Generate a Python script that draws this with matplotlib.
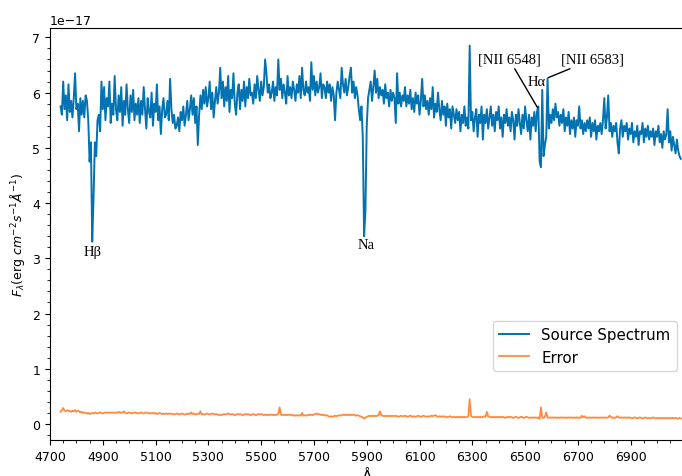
import numpy as np
import matplotlib
matplotlib.use("Agg")
import matplotlib.pyplot as plt
from matplotlib.ticker import MultipleLocator

# wavelength grid of the extracted spectrum (Angstrom)
wl_start, wl_step, wl_end = 4740, 5, 7090

# source flux, units of 1e-17 erg/cm^2/s/A, one row per 100 A
flux = [
    5.75, 5.6, 6.2, 5.7, 5.95, 5.5, 6.15, 5.65, 5.85, 5.55, 5.9, 6.35, 5.7, 5.8, 5.3, 5.9, 5.6, 5.85, 5.55, 5.95,
    5.85, 5.5, 4.75, 5.1, 3.3, 4.1, 5.1, 4.85, 5.5, 5.6, 5.3, 6.2, 5.7, 6.1, 5.5, 5.9, 5.75, 6.2, 5.45, 5.8,
    5.6, 6.3, 5.7, 5.5, 5.95, 5.65, 6.1, 5.4, 5.85, 5.6, 6.15, 5.7, 5.45, 5.95, 5.65, 6.05, 5.5, 5.8, 5.6, 5.9,
    5.45, 5.85, 5.6, 6.1, 5.7, 5.35, 5.9, 5.65, 5.55, 6.0, 5.4, 5.8, 5.65, 6.15, 5.5, 5.75, 5.25, 5.7, 5.9, 5.55,
    5.6, 5.85, 5.5, 6.25, 5.7, 5.45, 5.6, 5.35, 5.4, 5.55, 5.3, 5.65, 5.5, 5.75, 5.4, 5.6, 5.85, 5.5, 5.7, 5.95,
    5.6, 5.9, 5.45, 5.75, 5.05, 5.6, 5.95, 5.7, 6.05, 5.8, 6.1, 5.75, 5.9, 6.2, 5.7, 6.0, 5.55, 5.85, 6.1, 5.8,
    6.0, 6.45, 5.9, 6.2, 5.75, 6.1, 5.85, 6.3, 5.65, 6.05, 5.9, 6.35, 5.8, 5.6, 6.0, 6.15, 5.7, 6.05, 5.85, 6.2,
    5.75, 6.1, 5.9, 6.25, 5.95, 6.0, 5.8, 6.15, 5.9, 6.3, 6.05, 5.85, 6.2, 5.95, 6.1, 6.6, 6.35, 6.0, 6.15, 5.9,
    6.0, 6.2, 5.85, 6.1, 5.95, 6.6, 6.05, 6.25, 5.9, 6.15, 6.0, 5.8, 6.3, 5.95, 6.1, 5.9, 6.2, 6.05, 5.85, 6.15,
    6.0, 6.3, 5.9, 6.45, 6.05, 5.95, 6.2, 6.0, 6.1, 5.85, 6.55, 6.05, 6.3, 5.95, 6.2, 6.0, 6.1, 6.35, 5.9, 6.15,
    6.1, 5.9, 6.2, 6.0, 6.15, 5.85, 6.1, 5.95, 5.5, 6.0, 6.2, 6.05, 5.9, 6.45, 6.15, 6.0, 6.25, 5.95, 6.1, 6.3,
    6.45, 6.0, 6.2, 5.9, 6.1, 5.95, 5.7, 5.5, 5.75, 5.2, 3.4, 3.85, 5.4, 5.9, 6.05, 6.2, 5.85, 6.1, 6.4, 6.0,
    6.25, 5.9, 6.1, 5.95, 6.05, 5.8, 6.15, 5.9, 6.0, 5.75, 6.05, 5.85, 6.0, 5.9, 5.45, 6.35, 5.8, 6.0, 5.75, 5.95,
    5.85, 6.1, 5.75, 5.95, 5.8, 6.05, 5.7, 5.9, 5.65, 6.0, 5.8, 5.95, 5.6, 5.85, 6.25, 5.75, 5.95, 5.7, 5.85, 5.6,
    5.9, 5.7, 6.1, 5.55, 5.8, 5.65, 6.0, 5.7, 5.5, 5.85, 5.6, 5.75, 5.4, 5.8, 5.55, 5.7, 5.35, 5.75, 5.6, 5.45,
    5.7, 5.5, 5.65, 5.3, 5.6, 5.45, 5.75, 5.4, 5.55, 5.35, 6.85, 5.5, 5.65, 5.3, 5.55, 5.7, 5.2, 5.6, 5.45, 5.75,
    5.15, 5.6, 5.45, 5.7, 5.35, 5.55, 5.75, 5.4, 5.6, 5.3, 5.65, 5.5, 5.75, 5.35, 5.55, 5.2, 5.6, 5.45, 5.7, 5.4,
    5.55, 5.3, 5.65, 5.5, 5.15, 5.6, 5.4, 5.7, 5.45, 5.25, 5.6, 5.35, 5.75, 5.5, 5.3, 5.6, 5.15, 5.55, 5.4, 5.65,
    5.3, 5.65, 5.75, 4.75, 4.65, 6.05, 4.85, 5.05, 5.2, 6.25, 5.35, 5.6, 5.45, 5.7, 5.5, 5.8, 5.55, 5.65, 5.4, 5.6,
    5.45, 5.7, 5.3, 5.55, 5.4, 5.65, 5.25, 5.5, 5.35, 5.55, 5.2, 5.5, 5.4, 5.75, 5.35, 5.5, 5.25, 5.45, 5.3, 5.5,
    5.35, 5.55, 5.2, 5.45, 5.3, 5.5, 5.15, 5.4, 5.3, 5.45, 5.25, 5.5, 5.9, 5.35, 5.55, 5.95, 5.3, 5.45, 5.2, 5.4,
    5.3, 5.45, 5.1, 4.9, 5.35, 5.5, 5.2, 5.4, 5.3, 5.45, 5.15, 5.35, 5.25, 5.45, 5.1, 5.3, 5.2, 5.4, 5.05, 5.3,
    5.25, 5.45, 5.1, 5.35, 5.2, 5.4, 5.15, 5.3, 5.2, 5.35, 5.05, 5.3, 5.2, 5.4, 5.1, 5.25, 5.0, 5.3, 5.15, 5.25,
    5.7, 5.1, 5.3, 4.95, 5.2, 5.05, 4.9, 5.15, 4.95, 4.85, 4.8,
]

# 1-sigma error on the flux, same grid and units
error = [
    0.22, 0.25, 0.29, 0.24, 0.23, 0.25, 0.24, 0.23, 0.22, 0.24, 0.23, 0.25, 0.22, 0.24, 0.23, 0.21, 0.22, 0.20, 0.21, 0.20,
    0.19, 0.20, 0.18, 0.19, 0.20, 0.19, 0.21, 0.20, 0.19, 0.20, 0.21, 0.20, 0.19, 0.20, 0.21, 0.20, 0.21, 0.20, 0.21, 0.20,
    0.21, 0.20, 0.21, 0.20, 0.22, 0.21, 0.20, 0.21, 0.23, 0.20, 0.19, 0.20, 0.21, 0.20, 0.19, 0.20, 0.21, 0.20, 0.20, 0.19,
    0.20, 0.21, 0.20, 0.19, 0.20, 0.21, 0.20, 0.19, 0.20, 0.19, 0.20, 0.19, 0.20, 0.18, 0.19, 0.20, 0.19, 0.18, 0.19, 0.18,
    0.19, 0.18, 0.19, 0.18, 0.19, 0.18, 0.17, 0.18, 0.19, 0.18, 0.17, 0.18, 0.19, 0.18, 0.17, 0.18, 0.18, 0.19, 0.18, 0.21,
    0.18, 0.19, 0.17, 0.18, 0.19, 0.18, 0.23, 0.17, 0.18, 0.17, 0.18, 0.19, 0.18, 0.17, 0.18, 0.19, 0.18, 0.17, 0.18, 0.17,
    0.16, 0.17, 0.16, 0.17, 0.18, 0.17, 0.18, 0.19, 0.18, 0.17, 0.18, 0.17, 0.16, 0.17, 0.18, 0.17, 0.18, 0.17, 0.16, 0.17,
    0.18, 0.17, 0.18, 0.17, 0.16, 0.17, 0.18, 0.17, 0.16, 0.17, 0.18, 0.17, 0.18, 0.17, 0.16, 0.17, 0.16, 0.17, 0.16, 0.17,
    0.17, 0.16, 0.17, 0.16, 0.17, 0.18, 0.30, 0.17, 0.16, 0.17, 0.16, 0.17, 0.16, 0.17, 0.16, 0.17, 0.15, 0.16, 0.15, 0.16,
    0.15, 0.16, 0.15, 0.20, 0.15, 0.16, 0.15, 0.16, 0.17, 0.16, 0.17, 0.16, 0.17, 0.18, 0.19, 0.17, 0.18, 0.17, 0.16, 0.17,
    0.16, 0.15, 0.16, 0.14, 0.13, 0.14, 0.13, 0.14, 0.15, 0.14, 0.15, 0.16, 0.15, 0.16, 0.17, 0.16, 0.17, 0.16, 0.17, 0.16,
    0.17, 0.16, 0.17, 0.16, 0.15, 0.16, 0.15, 0.14, 0.13, 0.12, 0.10, 0.11, 0.13, 0.14, 0.15, 0.14, 0.15, 0.14, 0.15, 0.14,
    0.15, 0.16, 0.23, 0.16, 0.15, 0.14, 0.15, 0.14, 0.15, 0.14, 0.15, 0.14, 0.15, 0.14, 0.15, 0.14, 0.13, 0.14, 0.15, 0.14,
    0.14, 0.15, 0.14, 0.13, 0.14, 0.15, 0.14, 0.13, 0.14, 0.13, 0.14, 0.15, 0.14, 0.13, 0.14, 0.15, 0.14, 0.13, 0.14, 0.13,
    0.14, 0.15, 0.14, 0.15, 0.16, 0.14, 0.13, 0.14, 0.13, 0.14, 0.13, 0.14, 0.13, 0.12, 0.13, 0.14, 0.13, 0.12, 0.13, 0.12,
    0.13, 0.12, 0.13, 0.12, 0.13, 0.12, 0.13, 0.12, 0.13, 0.14, 0.45, 0.15, 0.13, 0.12, 0.13, 0.12, 0.13, 0.12, 0.13, 0.12,
    0.13, 0.14, 0.13, 0.22, 0.14, 0.13, 0.12, 0.13, 0.12, 0.13, 0.12, 0.13, 0.12, 0.13, 0.12, 0.13, 0.12, 0.11, 0.12, 0.13,
    0.12, 0.13, 0.12, 0.11, 0.12, 0.13, 0.12, 0.11, 0.12, 0.13, 0.12, 0.11, 0.12, 0.13, 0.12, 0.11, 0.12, 0.11, 0.12, 0.11,
    0.12, 0.11, 0.12, 0.09, 0.30, 0.12, 0.11, 0.13, 0.21, 0.12, 0.11, 0.12, 0.11, 0.12, 0.11, 0.12, 0.11, 0.12, 0.11, 0.12,
    0.11, 0.12, 0.11, 0.12, 0.11, 0.12, 0.11, 0.12, 0.11, 0.12, 0.11, 0.12, 0.11, 0.12, 0.11, 0.15, 0.12, 0.14, 0.11, 0.12,
    0.11, 0.12, 0.11, 0.12, 0.11, 0.12, 0.11, 0.12, 0.11, 0.12, 0.11, 0.12, 0.11, 0.12, 0.11, 0.12, 0.15, 0.13, 0.11, 0.12,
    0.11, 0.12, 0.14, 0.12, 0.11, 0.12, 0.11, 0.12, 0.11, 0.12, 0.11, 0.12, 0.11, 0.10, 0.11, 0.12, 0.11, 0.10, 0.11, 0.12,
    0.11, 0.10, 0.11, 0.12, 0.11, 0.10, 0.11, 0.10, 0.11, 0.12, 0.11, 0.10, 0.11, 0.10, 0.11, 0.10, 0.11, 0.10, 0.11, 0.10,
    0.11, 0.10, 0.11, 0.10, 0.11, 0.10, 0.11, 0.10, 0.10, 0.11, 0.10,
]

# line labels: (text, label x, label y, line end x, line end y); None = no leader line
lines = [
    ("H\u03b2", 4861, 3.12, None, None),
    ("Na", 5897, 3.25, None, None),
    ("[NII 6548]", 6440, 6.60, 6548, 5.72),
    ("[NII 6583]", 6756, 6.60, 6587, 6.27),
    ("H\u03b1", 6542, 6.20, None, None),
]

scale = 1e-17
wave = np.arange(wl_start, wl_end + 1, wl_step)
flux = np.array(flux) * scale
error = np.array(error) * scale

plt.rcParams['font.size'] = 9

fig = plt.figure(figsize=(6.82, 4.77), dpi=100)
ax = fig.add_axes([50 / 682, 36 / 477, 634 / 682, 412 / 477])

ax.plot(wave, flux, color='#0173b2', lw=1.4, label='Source Spectrum')
ax.plot(wave, error, color='#ff8a3d', lw=1.3, label='Error')

for text, tx, ty, lx, ly in lines:
    if lx is None:
        ax.text(tx, ty * scale, text, ha='center', va='center',
                family='Liberation Serif', fontsize=10.5)
    else:
        ax.annotate(text, xy=(lx, ly * scale), xytext=(tx, ty * scale),
                    ha='center', va='center', family='Liberation Serif', fontsize=10.5,
                    arrowprops=dict(arrowstyle='-', color='black', lw=1, shrinkA=0, shrinkB=0))

ax.set_xlim(4700, 7102)
ax.set_ylim(-0.29e-17, 7.17e-17)
ax.set_xticks(np.arange(4700, 7000, 200))
ax.xaxis.set_minor_locator(MultipleLocator(50))
ax.yaxis.set_major_locator(MultipleLocator(1e-17))
ax.yaxis.set_minor_locator(MultipleLocator(0.2e-17))

ax.set_xlabel('\u00c5')
ax.set_ylabel(r'$F_{\lambda}$(erg $cm^{-2}s^{-1}\AA^{-1}$)')

ax.legend(loc='lower right', bbox_to_anchor=(1.0, 0.15), fontsize='large')

fig.savefig('out.png', dpi=100)
